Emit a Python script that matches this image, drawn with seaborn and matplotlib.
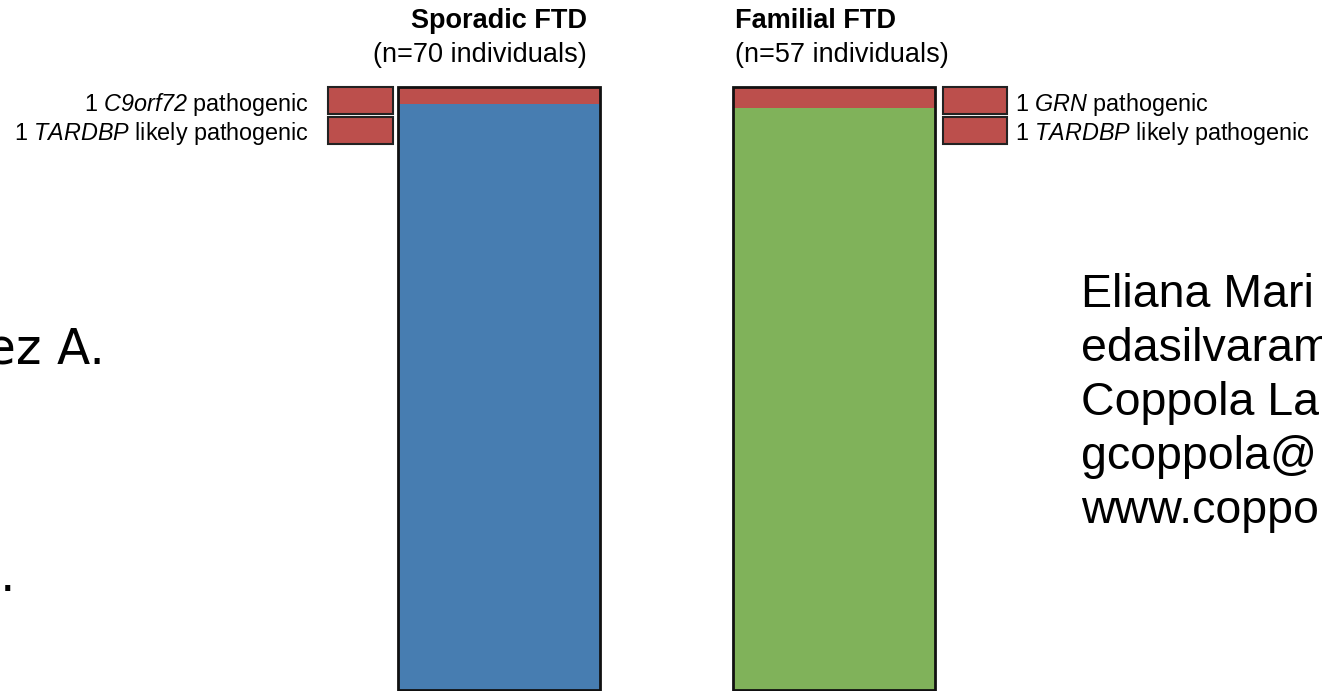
import matplotlib
matplotlib.use("Agg")
import matplotlib.pyplot as plt
import seaborn as sns

groups = ["Sporadic FTD", "Familial FTD"]
n_individuals = [70, 57]
n_pathogenic = [2, 2]
group_colors = ["#477db1", "#80b25a"]
red = "#bc4f4c"

left_labels = ["1 $\\mathit{C9orf72}$ pathogenic", "1 $\\mathit{TARDBP}$ likely pathogenic"]
left_counts = [1, 1]
right_labels = ["1 $\\mathit{GRN}$ pathogenic", "1 $\\mathit{TARDBP}$ likely pathogenic"]
right_counts = [1, 1]

contact_lines = ["Eliana Mari", "edasilvaram", "Coppola La", "gcoppola@", "www.coppo"]

sns.set_style("white")
plt.rcParams["font.family"] = ["Liberation Sans", "DejaVu Sans"]
plt.rcParams["text.color"] = "black"
# gene names only use mathtext, so map both to italic (keeps digits italic too)
plt.rcParams["mathtext.fontset"] = "custom"
plt.rcParams["mathtext.rm"] = "Liberation Sans:italic"
plt.rcParams["mathtext.it"] = "Liberation Sans:italic"

W, H = 1322, 691
fig = plt.figure(figsize=(W / 100, H / 100), dpi=100)


def px_axes(x0, y0, x1, y1):
    return fig.add_axes([x0 / W, 1 - y1 / H, (x1 - x0) / W, (y1 - y0) / H])


# main stacked bars (fraction of individuals, pathogenic on top)
ax = px_axes(398, 87, 935, 690)
full = [1.0] * len(groups)
frac = [p / n for p, n in zip(n_pathogenic, n_individuals)]
sns.barplot(x=groups, y=full, hue=groups, palette=group_colors, saturation=1,
            width=0.605, legend=False, linewidth=0, ax=ax)
sns.barplot(x=groups, y=frac, color=red, saturation=1, width=0.605,
            linewidth=0, ax=ax)
sns.barplot(x=groups, y=full, color="#111111", fill=False, width=0.605,
            linewidth=2, ax=ax)
ax.set_xlim(-0.3025, 1.3025)
ax.set_ylim(1, 0)
ax.axis("off")
for p in ax.patches:
    p.set_clip_on(False)

# mutation boxes
def mutation_boxes(axb, labels, counts, side):
    sns.barplot(x=counts, y=labels, orient="h", color=red, saturation=1,
                width=0.9, edgecolor="#222222", linewidth=1.5, ax=axb)
    axb.set_xlim(0, 1)
    axb.set_ylim(1.5, -0.5)
    axb.set(xlabel=None, ylabel=None, xticks=[])
    for s in axb.spines.values():
        s.set_visible(False)
    for p in axb.patches:
        p.set_clip_on(False)
    if side == "right":
        axb.yaxis.tick_right()
        axb.tick_params(axis="y", length=0, pad=6, labelsize=16.8, colors="black")
    else:
        axb.tick_params(axis="y", length=0, pad=14, labelsize=16.8, colors="black")


axl = px_axes(328, 86, 393, 145)
mutation_boxes(axl, left_labels, left_counts, "left")
axr = px_axes(943, 86, 1007, 145)
mutation_boxes(axr, right_labels, right_counts, "right")

# titles
fig.text(587 / W, 1 - 28 / H, "Sporadic FTD", ha="right", va="baseline",
         fontsize=19.5, fontweight="bold")
fig.text(587 / W, 1 - 62 / H, "(n=70 individuals)", ha="right", va="baseline",
         fontsize=19.5)
fig.text(735 / W, 1 - 28 / H, "Familial FTD", ha="left", va="baseline",
         fontsize=19.5, fontweight="bold")
fig.text(735 / W, 1 - 62 / H, "(n=57 individuals)", ha="left", va="baseline",
         fontsize=19.5)

# surrounding poster text fragments
for i, line in enumerate(contact_lines):
    fig.text(1081 / W, 1 - (307 + 54 * i) / H, line, ha="left", va="baseline",
             fontsize=33.5)
fig.text(105 / W, 1 - 363 / H, "ez A.", ha="right", va="baseline",
         fontsize=35, family="DejaVu Sans")
fig.text(15 / W, 1 - 591 / H, ".", ha="right", va="baseline",
         fontsize=35, family="DejaVu Sans")

fig.savefig("out.png", dpi=100)
